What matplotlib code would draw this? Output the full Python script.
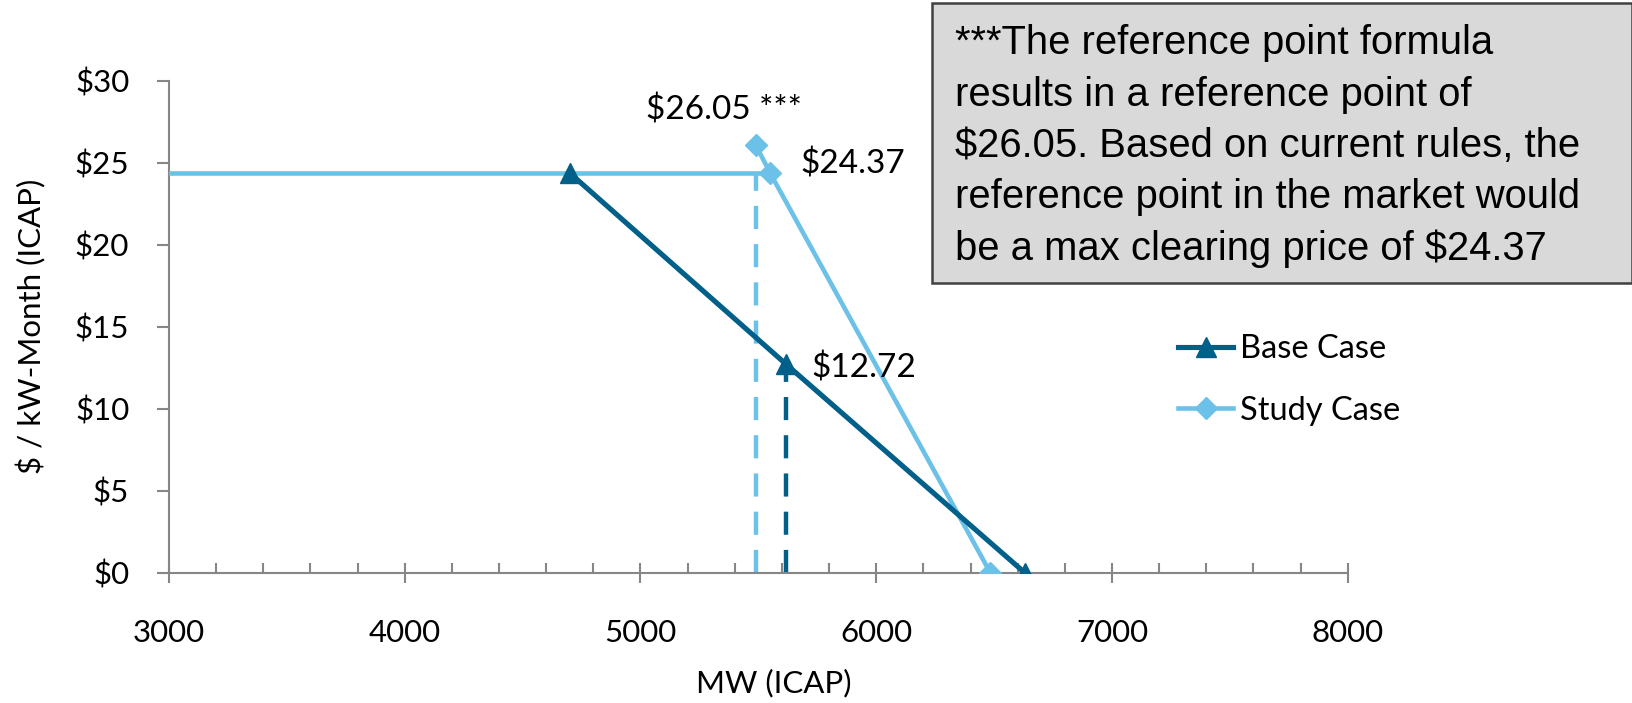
import matplotlib
matplotlib.use("Agg")
import matplotlib.pyplot as plt
from matplotlib.patches import Rectangle
from matplotlib.ticker import MultipleLocator
import numpy as np

# demand curve points, MW (ICAP) vs $/kW-month
base_mw = [4700, 5617, 6630]
base_price = [24.37, 12.72, 0.0]

study_mw = [5490, 5550, 6484]
study_price = [26.05, 24.37, 0.0]

# max clearing price cap on the study curve
cap_mw = [0, 5550]
cap_price = [24.37, 24.37]

x_ticks = [3000, 4000, 5000, 6000, 7000, 8000]
y_ticks = [0, 5, 10, 15, 20, 25, 30]

note_lines = [
    "***The reference point formula",
    "results in a reference point of",
    "$26.05. Based on current rules, the",
    "reference point in the market would",
    "be a max clearing price of $24.37",
]

dark = "#00608A"
light = "#6CC1E8"
grey = "#868686"

plt.rcParams['font.family'] = ['Lato', 'DejaVu Sans']

fig = plt.figure(figsize=(16.33, 7.03), dpi=100)
ax = fig.add_axes([169 / 1633, 1 - 572.7 / 703, (1347.7 - 169) / 1633, (572.7 - 80.7) / 703])

# drop lines from the reference points down to the axis
ax.plot([study_mw[0], study_mw[0]], [0, cap_price[0]], color=light, lw=3.2,
        dashes=(5.2, 3.4), zorder=2)
ax.plot([base_mw[1], base_mw[1]], [0, base_price[1]], color=dark, lw=3.2,
        dashes=(5.2, 3.4), zorder=2)

ax.plot(cap_mw, cap_price, color=light, lw=3.3, zorder=3)
ax.plot(study_mw, study_price, color=light, lw=3.3, marker='D', markersize=11,
        label='Study Case', zorder=3)
ax.plot(base_mw, base_price, color=dark, lw=3.7, marker='^', markersize=14.5,
        label='Base Case', zorder=4)

ax.set_xlim(3000, 8000)
ax.set_ylim(0, 30)
ax.set_xticks(x_ticks)
ax.set_xticklabels([str(v) for v in x_ticks])
ax.xaxis.set_minor_locator(MultipleLocator(200))
ax.set_yticks(y_ticks)
ax.set_yticklabels(["$%d" % v for v in y_ticks])

for side in ['top', 'right']:
    ax.spines[side].set_visible(False)
for side in ['left', 'bottom']:
    ax.spines[side].set_color(grey)
    ax.spines[side].set_linewidth(1.5)

ax.tick_params(axis='y', direction='out', length=8.6, width=1.5, color=grey,
               labelsize=22.5, pad=20)
ax.tick_params(axis='x', which='major', direction='inout', length=15, width=1.5,
               color=grey, labelsize=22.5, pad=26)
ax.tick_params(axis='x', which='minor', direction='in', length=7, width=1.5,
               color=grey)

ax.set_xlabel("MW (ICAP)", fontsize=22.5)
ax.set_ylabel("$ / kW-Month (ICAP)", fontsize=22.5)
ax.xaxis.set_label_coords(0.513, -0.196)
ax.yaxis.set_label_coords(-0.104, 0.501)

# point labels
ax.annotate("$26.05 ***", xy=(study_mw[0], study_price[0]), xytext=(33, 19),
            textcoords='offset points', ha='right', va='baseline', fontsize=24)
ax.annotate("$24.37", xy=(study_mw[1], study_price[1]), xytext=(22, 0),
            textcoords='offset points', ha='left', va='baseline', fontsize=24)
ax.annotate("$12.72", xy=(base_mw[1], base_price[1]), xytext=(18, -10),
            textcoords='offset points', ha='left', va='baseline', fontsize=24)

handles, labels = ax.get_legend_handles_labels()
ax.legend(handles[::-1], labels[::-1], loc='center left',
          bbox_to_anchor=(1178 / 1633, 1 - 380 / 703), bbox_transform=fig.transFigure,
          frameon=False, fontsize=23.5, handlelength=1.7, handletextpad=0.2,
          labelspacing=0.95, borderpad=0, borderaxespad=0)

# note box in the upper right
fig.patches.append(Rectangle((932 / 1633, 1 - 283 / 703), (1632 - 932) / 1633,
                             (283 - 3) / 703, transform=fig.transFigure,
                             facecolor='#D9D9D9', edgecolor='#404040', lw=1.8))
baselines = [54, 105.5, 157, 208, 260]
for line, yb in zip(note_lines, baselines):
    fig.text(955 / 1633, 1 - yb / 703, line, fontsize=28.8, va='baseline', ha='left',
             family=['Liberation Sans', 'DejaVu Sans'])

fig.savefig("out.png", dpi=100)
